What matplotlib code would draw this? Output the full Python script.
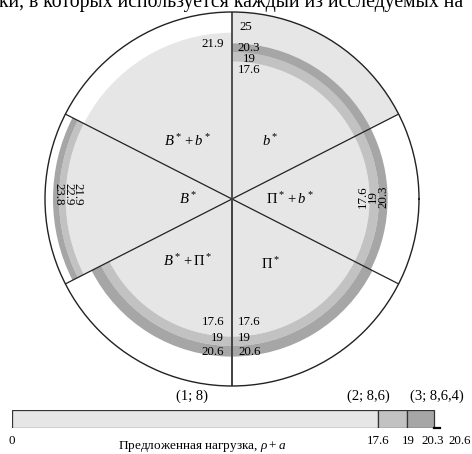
import numpy as np
import matplotlib
matplotlib.use('Agg')
import matplotlib.pyplot as plt

plt.rcParams['font.family'] = ['Liberation Serif', 'DejaVu Serif']
plt.rcParams['mathtext.fontset'] = 'custom'
plt.rcParams['mathtext.rm'] = 'Liberation Serif'
plt.rcParams['mathtext.it'] = 'Liberation Serif:italic'

# ---------------- data ----------------
sector_names = [r'$b^*$', r'$\Pi^* + b^*$', r'$\Pi^*$', r'$B^* + \Pi^*$', r'$B^*$', r'$B^* + b^*$']
sector_start = [27, -27, -90, 207, 153, 90]     # degrees
sector_end = [90, 27, -27, 270, 207, 153]
light_edge = [17.6, 17.6, 17.6, 17.6, 21.9, 21.9]
mid_edge = [19, 19, 19, 19, 22.9, None]
dark_edge = [20.3, 20.3, 20.6, 20.6, 23.8, None]
outer_fill = [25, None, None, None, None, None]
r_max = 25

bar_levels = [0, 17.6, 19, 20.3]
bar_group_labels = ['(1; 8)', '(2; 8,6)', '(3; 8,6,4)']
load_end = 20.6
tick_vals = [0, 17.6, 19, 20.3, 20.6]
tick_labels = ['0', '17.6', '19', '20.3', '20.6']

title_text = 'ки, в которых используется каждый из исследуемых на'
xlabel_text = r'Предложенная нагрузка, $\rho + a$'

# ---------------- style ----------------
C_LIGHT = '#e6e6e6'
C_MID = '#c2c2c2'
C_DARK = '#a6a6a6'
W, H = 472, 454

fig = plt.figure(figsize=(W / 100, H / 100), dpi=100)


def px(x, y):
    return x / W, 1 - y / H


# polar axes centred at (232,199) radius 187 px
cx, cy, R = 232, 199, 187
ax = fig.add_axes([(cx - R) / W, (H - cy - R) / H, 2 * R / W, 2 * R / H], projection='polar')
r_min = -3
ax.set_ylim(r_min, r_max)
ax.grid(False)
ax.set_xticks([])
ax.set_yticks([])
ax.spines['polar'].set_color('#222222')
ax.spines['polar'].set_linewidth(1.0)
ax.set_facecolor('white')

for i in range(len(sector_names)):
    t0 = np.deg2rad(sector_start[i])
    t1 = np.deg2rad(sector_end[i])
    tc, tw = (t0 + t1) / 2, (t1 - t0)
    if outer_fill[i] is not None:
        ax.bar(tc, outer_fill[i] - r_min, width=tw, bottom=r_min, color=C_LIGHT, linewidth=0)
    ax.bar(tc, light_edge[i] - r_min, width=tw, bottom=r_min, color=C_LIGHT, linewidth=0)
    if mid_edge[i] is not None:
        ax.bar(tc, mid_edge[i] - light_edge[i], width=tw, bottom=light_edge[i], color=C_MID, linewidth=0)
    if dark_edge[i] is not None:
        ax.bar(tc, dark_edge[i] - mid_edge[i], width=tw, bottom=mid_edge[i], color=C_DARK, linewidth=0)

for a in sorted(set(sector_start)):
    th = np.deg2rad(a)
    if a in (90, -90, 270):
        ax.plot([th, th], [r_min, r_max], color='#444444', lw=1.3, solid_capstyle='butt')
    else:
        ax.plot([th, th], [r_min, r_max], color='#222222', lw=0.9, solid_capstyle='butt')
ax.plot([np.deg2rad(270)] * 2, [r_min, r_max], color='#444444', lw=1.3)

# sector names (pixel positions)
name_pos = [(270, 141), (290, 199), (270, 264), (188, 261), (188, 199), (188, 141)]
for name, (x, y) in zip(sector_names, name_pos):
    fig.text(*px(x, y), name, ha='center', va='center', fontsize=10.5)

fs = 9.3
# top labels
fig.text(*px(246, 27), '25', ha='center', va='center', fontsize=fs)
fig.text(*px(213, 44), '21.9', ha='center', va='center', fontsize=fs)
top_txt = '\n'.join(f'{v:g}' for v in [dark_edge[0], mid_edge[0], light_edge[0]])
fig.text(*px(249, 59), top_txt, ha='center', va='center', multialignment='center',
         fontsize=fs, linespacing=0.92)
# right labels (rotated)
right_txt = '\n'.join(f'{v:g}' for v in [light_edge[1], mid_edge[1], dark_edge[1]])
fig.text(*px(373, 197), right_txt, ha='center', va='center', rotation=90,
         multialignment='center', fontsize=fs, linespacing=0.78)
# left labels (rotated)
left_txt = '\n'.join(f'{v:g}' for v in [light_edge[4], mid_edge[4], dark_edge[4]])
fig.text(*px(68, 194), left_txt, ha='center', va='center', rotation=-90,
         multialignment='center', fontsize=fs, linespacing=0.74)
# bottom labels
for v, y in zip([light_edge[2], mid_edge[2], dark_edge[2]], [322, 338, 352]):
    fig.text(*px(224, y), f'{v:g}', ha='right', va='center', fontsize=fs)
    fig.text(*px(238, y), f'{v:g}', ha='left', va='center', fontsize=fs)

# title fragment (cut at top)
fig.text(*px(-1, 7), title_text, ha='left', va='baseline', fontsize=14.2)

# ---------------- bottom bar ----------------
k = 20.79
x0 = 12
ax2 = fig.add_axes([x0 / W, (H - 428) / H, 22 * k / W, 18 / H])
ax2.set_xlim(0, 22)
ax2.set_ylim(0, 1)
ax2.axis('off')
seg_colors = [C_LIGHT, C_MID, C_DARK]
for i in range(3):
    ax2.barh(0.5, bar_levels[i + 1] - bar_levels[i], left=bar_levels[i], height=1,
             color=seg_colors[i], edgecolor='#333333', linewidth=0.9)
ax2.plot([bar_levels[-1], load_end], [0, 0], color='black', lw=1.6, clip_on=False)

tick_dx = [0, 0, 1, -1, 19]
for v, lab, dx in zip(tick_vals, tick_labels, tick_dx):
    ax2.annotate(lab, xy=(v, 0), xytext=(dx, -13), textcoords='offset pixels',
                 ha='center', va='center', fontsize=fs, annotation_clip=False)

grp_dx = [-3, -24, 16]
for i, (lab, dx) in enumerate(zip(bar_group_labels, grp_dx)):
    mid = (bar_levels[i] + bar_levels[i + 1]) / 2
    ax2.annotate(lab, xy=(mid, 1), xytext=(dx, 14), textcoords='offset pixels',
                 ha='center', va='center', fontsize=10.5, annotation_clip=False)

fig.text(*px(202, 446), xlabel_text, ha='center', va='center', fontsize=9.5)

fig.savefig('out.png', dpi=100)
